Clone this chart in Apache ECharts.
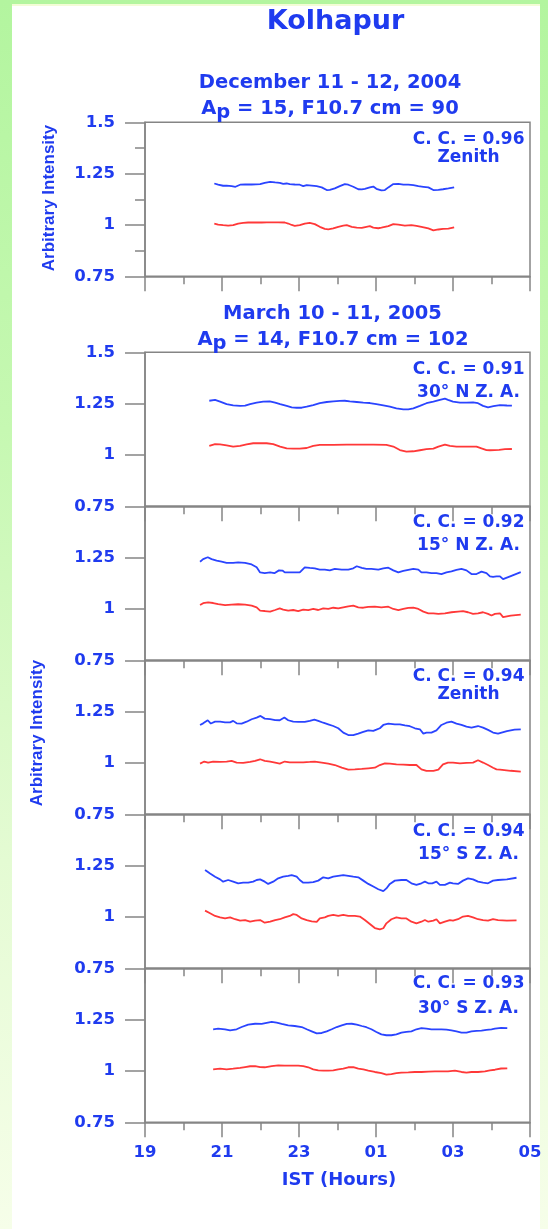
<!DOCTYPE html>
<html><head><meta charset="utf-8">
<script src="https://cdn.jsdelivr.net/npm/echarts@6/dist/echarts.min.js"></script>
<style>
html,body{margin:0;padding:0;}
body{width:548px;height:1229px;overflow:hidden;position:relative;background:linear-gradient(to bottom,#b3f59f 0%,#c6f8b2 35%,#e4fbd3 70%,#f6fee9 100%);}
#panel{position:absolute;left:12px;top:4px;width:528px;height:1225px;background:#fff;border-top:2px solid #f3fcd6;box-sizing:border-box;}
#chart{position:absolute;left:0;top:0;width:548px;height:1229px;}
</style></head><body><div id="panel"></div><div id="chart"></div>
<script>
// ---------- data (time in IST clock hours, continuing past midnight: 25 = 01 h) ----------
const START_HOUR = 19;
const hourLabels = ['19', '21', '23', '01', '03', '05'];
const yTicks = [0.75, 1, 1.25, 1.5];
const ccValues = ['0.96', '0.91', '0.92', '0.94', '0.94', '0.93'];
const directions = ['Zenith', '30° N Z. A.', '15° N Z. A.', 'Zenith', '15° S Z. A.', '30° S Z. A.'];

// Dec 11-12, 2004, Zenith
const decZenithBlue = [[20.80,1.202],[20.90,1.196],[21.03,1.191],[21.12,1.192],[21.25,1.189],[21.35,1.186],[21.47,1.196],[21.60,1.197],[21.77,1.197],[21.99,1.199],[22.11,1.205],[22.16,1.214],[22.25,1.210],[22.38,1.207],[22.50,1.205],[22.59,1.200],[22.68,1.202],[22.76,1.199],[22.89,1.197],[23.02,1.196],[23.11,1.189],[23.20,1.194],[23.33,1.192],[23.46,1.189],[23.59,1.183],[23.72,1.170],[23.80,1.171],[23.93,1.178],[24.06,1.189],[24.19,1.199],[24.28,1.196],[24.41,1.186],[24.54,1.174],[24.63,1.173],[24.71,1.176],[24.84,1.183],[24.93,1.187],[25.01,1.176],[25.14,1.168],[25.23,1.170],[25.32,1.183],[25.45,1.199],[25.58,1.200],[25.71,1.196],[25.84,1.196],[25.97,1.194],[26.10,1.189],[26.23,1.186],[26.36,1.183],[26.49,1.170],[26.62,1.171],[26.74,1.174],[26.88,1.178],[27.03,1.183]];
const decZenithRed = [[20.80,1.007],[20.90,1.002],[21.03,0.999],[21.16,0.997],[21.29,0.999],[21.42,1.007],[21.55,1.010],[21.68,1.012],[21.86,1.012],[22.03,1.012],[22.16,1.013],[22.29,1.013],[22.46,1.013],[22.63,1.012],[22.72,1.007],[22.81,1.000],[22.89,0.996],[23.02,0.999],[23.15,1.007],[23.28,1.010],[23.41,1.004],[23.54,0.991],[23.67,0.981],[23.76,0.979],[23.89,0.983],[24.02,0.991],[24.15,0.997],[24.24,0.999],[24.37,0.991],[24.50,0.987],[24.63,0.986],[24.75,0.991],[24.84,0.994],[24.93,0.987],[25.06,0.984],[25.14,0.987],[25.32,0.994],[25.45,1.004],[25.58,1.002],[25.75,0.997],[25.92,0.999],[26.05,0.996],[26.18,0.991],[26.36,0.983],[26.49,0.974],[26.62,0.978],[26.74,0.981],[26.88,0.982],[27.03,0.988]];

// Mar 10-11, 2005, 30 N Z.A.
const mar30NBlue = [[20.67,1.264],[20.82,1.268],[20.95,1.260],[21.12,1.248],[21.29,1.242],[21.47,1.239],[21.60,1.240],[21.73,1.248],[21.90,1.255],[22.07,1.260],[22.24,1.261],[22.38,1.255],[22.51,1.248],[22.68,1.239],[22.81,1.232],[22.94,1.230],[23.07,1.230],[23.20,1.235],[23.37,1.243],[23.54,1.252],[23.72,1.258],[23.89,1.261],[24.06,1.263],[24.19,1.264],[24.32,1.261],[24.50,1.258],[24.67,1.255],[24.84,1.253],[25.01,1.248],[25.19,1.242],[25.36,1.235],[25.53,1.227],[25.71,1.222],[25.84,1.222],[25.97,1.227],[26.14,1.239],[26.31,1.252],[26.49,1.260],[26.66,1.268],[26.79,1.274],[26.87,1.268],[27.00,1.260],[27.18,1.255],[27.35,1.255],[27.52,1.256],[27.65,1.252],[27.78,1.239],[27.91,1.232],[28.05,1.238],[28.22,1.243],[28.40,1.241],[28.53,1.240]];
const mar30NRed = [[20.67,1.044],[20.82,1.053],[20.95,1.052],[21.12,1.047],[21.29,1.041],[21.47,1.044],[21.64,1.052],[21.81,1.057],[21.99,1.057],[22.16,1.057],[22.33,1.053],[22.51,1.041],[22.68,1.032],[22.85,1.031],[23.02,1.031],[23.20,1.034],[23.37,1.044],[23.54,1.049],[23.72,1.049],[23.89,1.049],[24.24,1.050],[24.58,1.050],[24.93,1.050],[25.27,1.049],[25.45,1.041],[25.62,1.024],[25.79,1.016],[25.97,1.018],[26.14,1.023],[26.31,1.028],[26.49,1.031],[26.62,1.041],[26.79,1.050],[26.92,1.044],[27.09,1.041],[27.26,1.041],[27.44,1.041],[27.61,1.041],[27.74,1.032],[27.87,1.024],[27.96,1.023],[28.20,1.025],[28.35,1.028],[28.53,1.029]];

// 15 N Z.A.
const mar15NBlue = [[20.43,1.230],[20.51,1.243],[20.63,1.252],[20.73,1.243],[20.86,1.235],[20.99,1.230],[21.12,1.224],[21.29,1.224],[21.42,1.227],[21.60,1.224],[21.77,1.217],[21.90,1.203],[21.99,1.178],[22.11,1.175],[22.25,1.178],[22.36,1.174],[22.48,1.188],[22.57,1.187],[22.63,1.178],[22.76,1.178],[22.89,1.178],[23.02,1.178],[23.15,1.203],[23.28,1.200],[23.41,1.198],[23.54,1.192],[23.67,1.192],[23.80,1.188],[23.93,1.195],[24.11,1.192],[24.28,1.192],[24.41,1.198],[24.50,1.208],[24.63,1.200],[24.75,1.195],[24.88,1.195],[25.06,1.192],[25.19,1.198],[25.32,1.201],[25.45,1.188],[25.58,1.178],[25.71,1.185],[25.84,1.190],[25.97,1.195],[26.10,1.192],[26.18,1.178],[26.31,1.178],[26.44,1.175],[26.57,1.175],[26.70,1.170],[26.83,1.178],[26.96,1.183],[27.09,1.190],[27.22,1.195],[27.35,1.188],[27.48,1.170],[27.61,1.170],[27.74,1.182],[27.87,1.175],[27.96,1.159],[28.04,1.156],[28.13,1.159],[28.22,1.159],[28.30,1.145],[28.50,1.160],[28.76,1.179]];
const mar15NRed = [[20.43,1.019],[20.51,1.028],[20.64,1.032],[20.77,1.029],[20.90,1.024],[21.08,1.019],[21.25,1.021],[21.42,1.023],[21.60,1.021],[21.77,1.016],[21.90,1.008],[21.99,0.992],[22.11,0.990],[22.25,0.987],[22.38,0.995],[22.50,1.003],[22.59,0.997],[22.72,0.992],[22.85,0.995],[22.98,0.990],[23.11,0.997],[23.24,0.994],[23.37,1.000],[23.50,0.995],[23.63,1.003],[23.76,1.000],[23.89,1.006],[24.02,1.003],[24.15,1.008],[24.28,1.013],[24.41,1.016],[24.54,1.008],[24.67,1.006],[24.80,1.010],[24.97,1.011],[25.14,1.008],[25.32,1.011],[25.45,1.000],[25.58,0.994],[25.71,1.000],[25.84,1.005],[25.97,1.006],[26.10,1.000],[26.23,0.987],[26.36,0.979],[26.49,0.979],[26.62,0.976],[26.79,0.979],[26.96,0.984],[27.13,0.987],[27.26,0.989],[27.39,0.984],[27.52,0.976],[27.65,0.979],[27.78,0.984],[27.91,0.976],[28.00,0.968],[28.09,0.976],[28.22,0.979],[28.30,0.960],[28.50,0.968],[28.76,0.972]];

// Zenith
const marZenithBlue = [[20.43,1.185],[20.51,1.193],[20.63,1.208],[20.71,1.192],[20.82,1.201],[20.95,1.201],[21.08,1.198],[21.21,1.198],[21.29,1.205],[21.38,1.193],[21.51,1.192],[21.64,1.201],[21.77,1.213],[21.90,1.221],[22.00,1.229],[22.11,1.216],[22.25,1.213],[22.38,1.209],[22.50,1.208],[22.62,1.221],[22.72,1.208],[22.85,1.201],[22.98,1.200],[23.15,1.200],[23.28,1.205],[23.40,1.211],[23.50,1.205],[23.63,1.196],[23.76,1.188],[23.89,1.180],[24.02,1.169],[24.15,1.148],[24.28,1.136],[24.41,1.136],[24.54,1.143],[24.67,1.151],[24.80,1.159],[24.93,1.156],[25.01,1.162],[25.10,1.169],[25.19,1.185],[25.32,1.192],[25.49,1.188],[25.62,1.188],[25.75,1.183],[25.88,1.179],[26.01,1.169],[26.14,1.164],[26.23,1.143],[26.31,1.148],[26.44,1.148],[26.57,1.159],[26.70,1.185],[26.83,1.196],[26.96,1.201],[27.09,1.192],[27.22,1.185],[27.35,1.177],[27.48,1.172],[27.65,1.180],[27.78,1.172],[27.91,1.161],[28.04,1.148],[28.17,1.143],[28.40,1.155],[28.60,1.162],[28.76,1.164]];
const marZenithRed = [[20.43,0.997],[20.54,1.007],[20.64,1.002],[20.77,1.007],[20.95,1.005],[21.12,1.007],[21.25,1.010],[21.38,1.002],[21.55,1.000],[21.73,1.005],[21.86,1.010],[21.99,1.018],[22.11,1.010],[22.25,1.007],[22.38,1.002],[22.50,0.997],[22.63,1.007],[22.76,1.003],[22.94,1.003],[23.11,1.003],[23.28,1.005],[23.41,1.007],[23.59,1.002],[23.76,0.997],[23.93,0.990],[24.11,0.977],[24.28,0.968],[24.45,0.969],[24.63,0.971],[24.80,0.974],[24.97,0.977],[25.10,0.990],[25.23,0.998],[25.36,0.997],[25.53,0.993],[25.71,0.992],[25.88,0.990],[26.05,0.990],[26.18,0.969],[26.31,0.961],[26.49,0.961],[26.62,0.968],[26.74,0.993],[26.87,1.002],[27.00,1.002],[27.18,0.998],[27.35,1.000],[27.52,1.002],[27.65,1.013],[27.78,1.002],[27.91,0.990],[28.04,0.977],[28.13,0.969],[28.22,0.968],[28.50,0.962],[28.76,0.958]];

// 15 S Z.A.
const mar15SBlue = [[20.56,1.229],[20.69,1.212],[20.82,1.196],[20.95,1.183],[21.03,1.172],[21.16,1.180],[21.29,1.172],[21.42,1.164],[21.55,1.167],[21.68,1.167],[21.81,1.172],[21.90,1.180],[21.99,1.183],[22.11,1.172],[22.20,1.161],[22.33,1.172],[22.46,1.188],[22.59,1.196],[22.72,1.200],[22.81,1.204],[22.94,1.196],[23.02,1.180],[23.11,1.167],[23.24,1.167],[23.37,1.170],[23.50,1.177],[23.63,1.193],[23.76,1.188],[23.89,1.196],[24.02,1.200],[24.15,1.204],[24.28,1.200],[24.41,1.196],[24.54,1.193],[24.67,1.177],[24.80,1.161],[24.93,1.148],[25.06,1.135],[25.19,1.126],[25.27,1.139],[25.36,1.161],[25.49,1.177],[25.66,1.180],[25.79,1.180],[25.92,1.164],[26.05,1.156],[26.18,1.164],[26.27,1.172],[26.36,1.164],[26.46,1.164],[26.57,1.172],[26.66,1.156],[26.79,1.156],[26.92,1.167],[27.00,1.164],[27.13,1.161],[27.26,1.177],[27.39,1.188],[27.52,1.183],[27.65,1.172],[27.78,1.167],[27.91,1.164],[28.04,1.177],[28.17,1.180],[28.40,1.183],[28.65,1.191]];
const mar15SRed = [[20.56,1.031],[20.69,1.018],[20.82,1.005],[20.95,0.998],[21.08,0.993],[21.21,0.998],[21.34,0.989],[21.47,0.982],[21.60,0.985],[21.73,0.977],[21.86,0.982],[21.99,0.985],[22.11,0.972],[22.25,0.977],[22.38,0.985],[22.50,0.989],[22.63,0.998],[22.76,1.005],[22.85,1.014],[22.94,1.010],[23.07,0.993],[23.20,0.985],[23.33,0.979],[23.46,0.976],[23.54,0.993],[23.67,0.998],[23.76,1.005],[23.89,1.010],[24.02,1.005],[24.15,1.010],[24.28,1.005],[24.45,1.005],[24.58,1.002],[24.71,0.985],[24.84,0.966],[24.97,0.946],[25.10,0.940],[25.19,0.945],[25.27,0.969],[25.40,0.989],[25.53,0.998],[25.66,0.993],[25.79,0.993],[25.92,0.977],[26.05,0.969],[26.18,0.977],[26.27,0.985],[26.36,0.977],[26.49,0.982],[26.57,0.989],[26.66,0.969],[26.79,0.977],[26.92,0.985],[27.00,0.982],[27.13,0.989],[27.26,1.002],[27.39,1.005],[27.52,0.998],[27.65,0.989],[27.78,0.985],[27.91,0.982],[28.04,0.989],[28.17,0.985],[28.40,0.982],[28.65,0.983]];

// 30 S Z.A.
const mar30SBlue = [[20.77,1.203],[20.90,1.206],[21.08,1.203],[21.21,1.198],[21.38,1.203],[21.51,1.214],[21.68,1.226],[21.86,1.230],[22.03,1.229],[22.16,1.234],[22.29,1.239],[22.42,1.235],[22.55,1.229],[22.72,1.222],[22.89,1.219],[23.07,1.214],[23.20,1.203],[23.33,1.193],[23.46,1.183],[23.59,1.185],[23.72,1.193],[23.85,1.203],[23.98,1.214],[24.11,1.222],[24.24,1.229],[24.37,1.230],[24.50,1.226],[24.63,1.219],[24.75,1.213],[24.88,1.203],[25.01,1.190],[25.14,1.178],[25.27,1.174],[25.40,1.174],[25.53,1.178],[25.66,1.187],[25.79,1.190],[25.92,1.193],[26.05,1.203],[26.18,1.209],[26.31,1.206],[26.44,1.203],[26.57,1.203],[26.70,1.203],[26.83,1.201],[26.96,1.198],[27.09,1.193],[27.22,1.187],[27.35,1.187],[27.48,1.193],[27.61,1.195],[27.74,1.196],[27.87,1.200],[28.00,1.203],[28.09,1.206],[28.25,1.210],[28.41,1.209]];
const mar30SRed = [[20.77,1.008],[20.95,1.011],[21.12,1.008],[21.29,1.011],[21.47,1.015],[21.60,1.019],[21.73,1.023],[21.86,1.024],[21.99,1.019],[22.11,1.018],[22.29,1.024],[22.46,1.027],[22.63,1.026],[22.81,1.026],[22.98,1.026],[23.11,1.024],[23.24,1.018],[23.37,1.008],[23.50,1.003],[23.63,1.002],[23.76,1.002],[23.89,1.003],[24.02,1.008],[24.15,1.011],[24.28,1.018],[24.41,1.019],[24.54,1.011],[24.67,1.008],[24.80,1.002],[24.97,0.995],[25.14,0.989],[25.27,0.982],[25.40,0.985],[25.53,0.989],[25.66,0.992],[25.84,0.993],[26.01,0.995],[26.18,0.995],[26.36,0.997],[26.53,0.998],[26.70,0.998],[26.87,0.998],[27.05,1.002],[27.22,0.995],[27.35,0.992],[27.48,0.995],[27.65,0.995],[27.83,0.998],[27.96,1.003],[28.09,1.006],[28.25,1.012],[28.41,1.013]];

const blueSeries = [decZenithBlue, mar30NBlue, mar15NBlue, marZenithBlue, mar15SBlue, mar30SBlue];
const redSeries = [decZenithRed, mar30NRed, mar15NRed, marZenithRed, mar15SRed, mar30SRed];

// ---------- styling ----------
const TXT = '#1f3bef';
const AX = '#858585';
const BLUE = '#2a44ff';
const RED = '#ff3838';
const VFONT = '"DejaVu Sans", Verdana, sans-serif';
const AFONT = '"Liberation Sans", Arial, sans-serif';

const gridTops = [122.3, 352.3, 506.3, 660.3, 814.3, 968.3];
const GH = 154, GL = 145, GW = 385;

const chart = echarts.init(document.getElementById('chart'), null, {renderer: 'canvas'});
const grids = [], xAxes = [], yAxes = [], series = [];
gridTops.forEach((t, i) => {
  grids.push({left: GL, top: t, width: GW, height: GH, show: true, borderColor: AX, borderWidth: 1.5, backgroundColor: 'transparent'});
  const last = i === 5;
  xAxes.push({
    type: 'value', gridIndex: i, min: 0, max: 10, interval: 2,
    axisLine: {show: true, lineStyle: {color: AX, width: 1.5}},
    axisTick: {show: true, length: 15, inside: false, lineStyle: {color: AX, width: 1.5}},
    minorTick: {show: true, splitNumber: 2, length: 8, lineStyle: {color: AX, width: 1.5}},
    splitLine: {show: false}, minorSplitLine: {show: false},
    axisLabel: {show: last, margin: 22, color: TXT, fontFamily: VFONT, fontWeight: 'bold', fontSize: 16.5,
      formatter: v => hourLabels[Math.round(v / 2)]}
  });
  yAxes.push({
    type: 'value', gridIndex: i, min: yTicks[0], max: yTicks[yTicks.length - 1], interval: 0.25,
    axisLine: {show: true, lineStyle: {color: AX, width: 1.5}},
    axisTick: {show: true, length: 20, lineStyle: {color: AX, width: 1.5}},
    minorTick: {show: i === 0, splitNumber: 2, length: 10, lineStyle: {color: AX, width: 1.5}},
    splitLine: {show: false},
    axisLabel: {show: true, margin: 30, color: TXT, fontFamily: VFONT, fontWeight: 'bold', fontSize: 16.5,
      formatter: v => (i >= 2 && v === 1.5) ? '' : String(v)}
  });
  [[blueSeries[i], BLUE], [redSeries[i], RED]].forEach(([arr, col]) => {
    series.push({
      type: 'line', xAxisIndex: i, yAxisIndex: i, showSymbol: false, symbol: 'none', silent: true,
      lineStyle: {color: col, width: 1.8}, itemStyle: {color: col},
      data: arr.map(p => [p[0] - START_HOUR, p[1]])
    });
  });
});

const graphic = [];
function txt(x, y, s, font, align, extra) {
  graphic.push(Object.assign({type: 'text', x: x, y: y, silent: true,
    style: {text: s, font: font, fill: TXT, align: align || 'center', verticalAlign: 'middle'}}, extra || {}));
}
txt(335.5, 22, 'Kolhapur', 'bold 27px ' + VFONT);
txt(330, 83, 'December 11 - 12, 2004', 'bold 19.5px ' + VFONT);
txt(332.5, 313.5, 'March 10 - 11, 2005', 'bold 19.5px ' + VFONT);
function apLine(x, y, rest) {
  graphic.push({type: 'text', x: x, y: y, silent: true,
    style: {text: '{n|A}{s|p}{n|' + rest + '}', align: 'center', verticalAlign: 'middle',
      rich: {
        n: {fontFamily: VFONT, fontWeight: 'bold', fontSize: 19.5, fill: TXT},
        s: {fontFamily: VFONT, fontWeight: 'bold', fontSize: 19.5, fill: TXT, padding: [8, 0, 0, 0]}
      }}});
}
apLine(330, 108.5, ' = 15, F10.7 cm = 90');
apLine(333, 339.5, ' = 14, F10.7 cm = 102');

const ccOffsets = [17, 17.7, 16.7, 16.7, 17.4, 15.7];
const dirOffsets = [35, 40.4, 39.4, 34, 40, 40];
gridTops.forEach((t, i) => {
  txt(524.5, t + ccOffsets[i], 'C. C. = ' + ccValues[i], 'bold 17px ' + VFONT, 'right');
  txt(468.5, t + dirOffsets[i], directions[i], 'bold 17px ' + VFONT);
});

txt(49, 198, 'Arbitrary Intensity', 'bold 17px ' + AFONT, 'center', {rotation: Math.PI / 2});
txt(37.5, 733, 'Arbitrary Intensity', 'bold 17px ' + AFONT, 'center', {rotation: Math.PI / 2});
txt(339, 1180, 'IST (Hours)', 'bold 18px ' + VFONT);

chart.setOption({
  animation: false,
  backgroundColor: 'transparent',
  grid: grids, xAxis: xAxes, yAxis: yAxes, series: series, graphic: graphic
});
</script></body></html>
